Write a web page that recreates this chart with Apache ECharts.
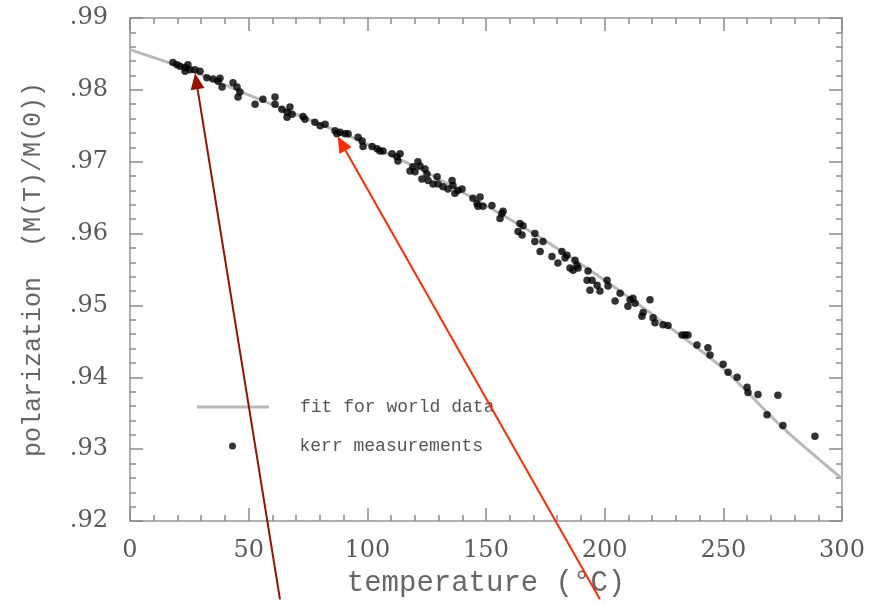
<!DOCTYPE html>
<html><head><meta charset="utf-8">
<script src="https://cdn.jsdelivr.net/npm/echarts@6/dist/echarts.min.js"></script>
<style>html,body{margin:0;padding:0;background:#fff}#c{width:881px;height:603px}</style>
</head><body><div id="c"></div>
<script>
// ---- data ----
const kerrT = [18.1,19.8,21.1,23.2,25.3,27.4,23.2,24.4,29.5,32.4,
35.0,37.1,38.8,37.9,43.4,45.1,46.3,45.5,52.7,56.0,
61.1,61.1,64.0,66.2,67.4,68.3,66.2,72.9,73.7,77.9,
80.1,82.2,86.4,87.2,88.5,90.6,91.9,96.1,97.8,98.2,
102.0,104.1,105.3,106.6,110.4,112.5,113.8,112.9,118.0,119.2,
121.3,122.2,120.1,124.3,125.1,123.0,125.6,129.4,129.8,127.7,
131.9,134.0,135.7,136.1,136.9,138.2,139.9,144.5,146.2,146.6,
147.5,148.7,152.5,156.7,155.9,157.2,164.3,165.6,163.5,165.2,
170.6,170.6,174.0,172.8,177.8,180.3,182.0,184.1,183.3,187.5,
188.3,188.8,185.4,186.7,193.0,192.6,194.7,193.8,196.8,198.0,
201.0,201.4,206.5,204.4,210.7,211.9,212.8,209.8,219.1,216.2,
215.7,220.4,221.2,224.6,226.7,232.6,233.9,235.1,238.9,243.5,
244.4,249.9,252.0,255.8,260.0,260.4,264.6,273.0,268.4,275.1,
288.6];
const kerrM = [.9838,.9835,.9833,.9831,.9828,.9828,.9826,.9835,.9826,.9817,
.9815,.9812,.9804,.9816,.9810,.9804,.9797,.9790,.9780,.9787,
.9790,.9780,.9773,.9769,.9776,.9766,.9762,.9763,.9759,.9755,
.9750,.9752,.9743,.9739,.9741,.9739,.9739,.9734,.9729,.9721,
.9721,.9718,.9715,.9715,.9711,.9707,.9711,.9701,.9687,.9693,
.9700,.9694,.9686,.9690,.9683,.9676,.9674,.9679,.9669,.9669,
.9665,.9662,.9674,.9667,.9656,.9660,.9662,.9649,.9642,.9638,
.9651,.9638,.9639,.9628,.9621,.9631,.9614,.9611,.9603,.9598,
.9600,.9589,.9589,.9575,.9568,.9559,.9575,.9570,.9566,.9563,
.9556,.9552,.9552,.9549,.9548,.9535,.9535,.9521,.9528,.9520,
.9535,.9527,.9517,.9506,.9508,.9510,.9503,.9499,.9508,.9490,
.9485,.9483,.9476,.9473,.9472,.9459,.9459,.9459,.9445,.9441,
.9431,.9418,.9407,.9400,.9386,.9379,.9376,.9375,.9348,.9333,
.9318];
const fitT = [0,12.6,25,50,88.5,100,125,160,175,200,226,250,275,300];
const fitM = [.9856,.9842,.9828,.9793,.9741,.9724,.9685,.9620,.9590,.9535,.9473,.9412,.9330,.9259];
const seriesNames = ['fit for world data','kerr measurements'];
const xTitle = 'temperature (\u00B0C)';
const yTitle = 'polarization  (M(T)/M(0))';
// annotation arrows (data coordinates): tip and tail
const arrowTipT = [27.4, 87.5];
const arrowTipM = [.9823, .9735];
const arrowTailT = [63.2, 198.0];
const arrowTailM = [.9091, .9091];
const arrowColors = ['#961200', '#ff2a00'];

// ---- chart ----
const chart = echarts.init(document.getElementById('c'), null, {renderer:'canvas'});
const axisGray = '#969696';
const tickGray = '#8a8a8a';
const labelFont = {fontFamily:'DejaVu Serif', fontSize:24, color:'#5a5a5a'};
function xAx(pos, show){
  return {type:'value', position:pos, min:0, max:300, interval:50,
    axisLine:{show:true, onZero:false, lineStyle:{color:axisGray, width:1.5}},
    axisTick:{show:true, inside:true, length:13, lineStyle:{color:tickGray, width:1.5}},
    minorTick:{show:true, splitNumber:5, length:6, lineStyle:{color:tickGray, width:1.5}},
    splitLine:{show:false}, minorSplitLine:{show:false},
    axisLabel:Object.assign({show:show, margin:18}, labelFont),
    name: show ? xTitle : '', nameLocation:'middle', nameGap:48,
    nameTextStyle:{fontFamily:'Liberation Mono', fontSize:29, color:'#666'}};
}
function yAx(pos, show){
  return {type:'value', position:pos, min:0.92, max:0.99, interval:0.01,
    axisLine:{show:true, onZero:false, lineStyle:{color:axisGray, width:1.5}},
    axisTick:{show:true, inside:true, length:13, lineStyle:{color:tickGray, width:1.5}},
    minorTick:{show:true, splitNumber:5, length:6, lineStyle:{color:tickGray, width:1.5}},
    splitLine:{show:false}, minorSplitLine:{show:false},
    axisLabel:Object.assign({show:show, margin:22, formatter:v=>'.'+Math.round(v*100)}, labelFont),
    name: show ? yTitle : '', nameLocation:'middle', nameGap:84, nameRotate:90,
    nameTextStyle:{fontFamily:'Liberation Mono', fontSize:25, color:'#666'}};
}
const legTxt = {fontFamily:'Liberation Mono', fontSize:18, color:'#555', padding:[0,0,0,26]};
chart.setOption({
  animation:false,
  backgroundColor:'#fff',
  grid:{left:130, right:39, top:18, bottom:79, containLabel:false},
  xAxis:[xAx('bottom', true), xAx('top', false)],
  yAxis:[yAx('left', true), yAx('right', false)],
  legend:[
    {data:[{name:seriesNames[0], icon:'rect'}], left:197, top:398, padding:0,
     itemWidth:72, itemHeight:3, selectedMode:false, textStyle:legTxt},
    {data:[{name:seriesNames[1], icon:'circle'}], left:229, top:437, padding:0,
     itemWidth:72, itemHeight:7, selectedMode:false, textStyle:legTxt}
  ],
  series:[
    {name:seriesNames[0], type:'line', xAxisIndex:0, yAxisIndex:0,
     data:fitT.map((t,i)=>[t,fitM[i]]), smooth:0.3, showSymbol:false, symbol:'none',
     color:'#b9b9b9', lineStyle:{color:'#b9b9b9', width:3}, z:2},
    {name:seriesNames[1], type:'scatter', xAxisIndex:0, yAxisIndex:0,
     data:kerrT.map((t,i)=>[t,kerrM[i]]), symbol:'circle', symbolSize:7.5,
     itemStyle:{color:'#000'}, z:3}
  ]
});

// arrows
const g = [];
for (let i=0;i<arrowTipT.length;i++){
  const tip = chart.convertToPixel({xAxisIndex:0,yAxisIndex:0},[arrowTipT[i],arrowTipM[i]]);
  const tail = chart.convertToPixel({xAxisIndex:0,yAxisIndex:0},[arrowTailT[i],arrowTailM[i]]);
  const dx = tip[0]-tail[0], dy = tip[1]-tail[1];
  const len = Math.hypot(dx,dy); const ux = dx/len, uy = dy/len;
  const L = 16, W = 7;
  const bx = tip[0]-ux*L, by = tip[1]-uy*L;
  const nx = -uy, ny = ux;
  g.push({type:'line', z:100, shape:{x1:tail[0], y1:tail[1], x2:bx, y2:by},
    style:{stroke:arrowColors[i], lineWidth:2}});
  g.push({type:'polygon', z:100, shape:{points:[[tip[0],tip[1]],[bx+nx*W,by+ny*W],[bx-nx*W,by-ny*W]]},
    style:{fill:arrowColors[i]}});
}
chart.setOption({graphic:g});
</script></body></html>
